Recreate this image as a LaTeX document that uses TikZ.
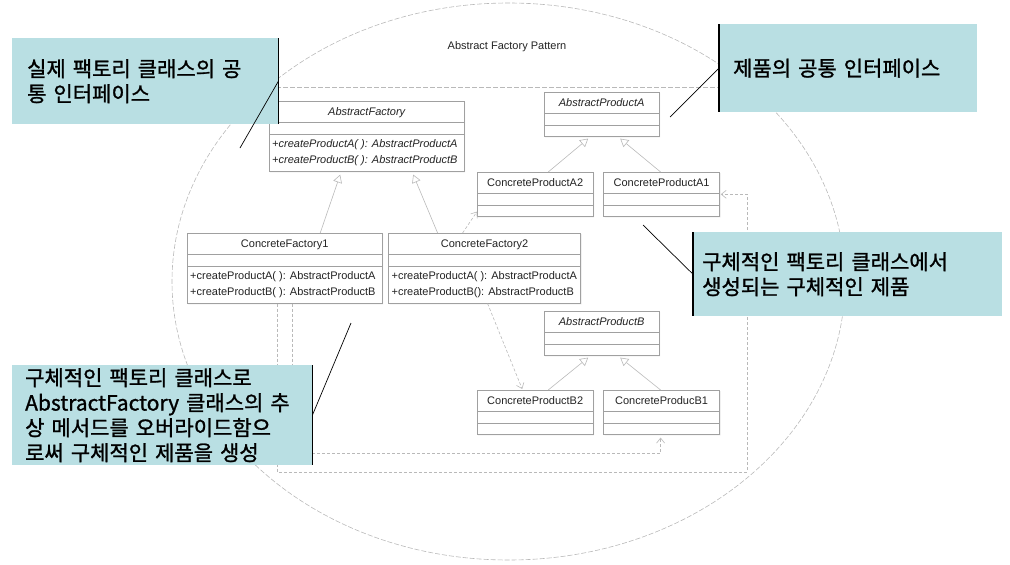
\documentclass[tikz,border=0pt]{standalone}
\usepackage{fontspec}
\setmainfont{Liberation Sans}
\newfontfamily\kor[WordSpace=2.4, FakeBold=1.2]{Noto Sans CJK KR}
\usetikzlibrary{arrows.meta,positioning,calc,shapes.multipart,shadows}
\definecolor{notebg}{RGB}{185,223,227}
\definecolor{umlline}{RGB}{160,160,160}
\definecolor{linkgray}{RGB}{185,185,185}
\definecolor{umltext}{RGB}{35,35,35}

\begin{document}
\begin{tikzpicture}[x=1pt, y=-1pt,
  cls/.style={rectangle split, rectangle split parts=3, draw=umlline, fill=white,
              drop shadow={shadow xshift=1pt, shadow yshift=-1pt, opacity=0.18},
              font=\fontsize{11}{16}\selectfont, text=umltext, align=left,
              rectangle split part align={center,center,left},
              inner xsep=3pt, inner ysep=2.5pt,
              rectangle split empty part height=6pt, rectangle split empty part depth=0pt,
              anchor=north west},
  note/.style={fill=notebg, font=\kor\fontsize{21}{25}\selectfont, align=left,
               inner ysep=0pt, anchor=north west},
  noteedge/.style={black, line width=1.1pt},
  pointer/.style={black, line width=0.7pt},
  frame/.style={draw=linkgray, dash pattern=on 5pt off 2pt, line width=0.6pt},
  gen/.style={draw=linkgray, line width=0.6pt, -{Triangle[open, length=8pt, width=9pt, fill=white]}},
  dep/.style={draw=linkgray, line width=0.6pt, dash pattern=on 3pt off 2pt,
              -{Straight Barb[length=5pt, width=8pt]}}]
  \useasboundingbox (0,0) rectangle (1010,565);

  % collaboration
  \draw[frame] (508.5,281.5) ellipse [x radius=336.5, y radius=278.5];
  \begin{scope}
    \clip (508.5,281.5) ellipse [x radius=336.5, y radius=278.5];
    \draw[frame] (150,87) -- (870,87);
  \end{scope}
  \node[font=\fontsize{11}{13}\selectfont, text=umltext] (title) at (507,47) {Abstract Factory Pattern};

  % classes
  \node[cls, minimum width=195pt] (af) at (269,101)
    {\strut\itshape AbstractFactory \nodepart{second} \nodepart{third}
     \itshape\strut+createProductA( ): AbstractProductA\\ \itshape\strut+createProductB( ): AbstractProductB};
  \node[cls, minimum width=115pt] (apa) at (544,92) {\strut\itshape AbstractProductA \nodepart{second} \nodepart{third}};
  \node[cls, minimum width=116pt] (a2) at (477,172) {\strut ConcreteProductA2 \nodepart{second} \nodepart{third}};
  \node[cls, minimum width=116pt, right=10pt of a2] (a1) {\strut ConcreteProductA1 \nodepart{second} \nodepart{third}};
  \node[cls, minimum width=195pt] (cf1) at (187,233)
    {\strut ConcreteFactory1 \nodepart{second} \nodepart{third}
     \strut+createProductA( ): AbstractProductA\\ \strut+createProductB( ): AbstractProductB};
  \node[cls, minimum width=192pt, right=6pt of cf1] (cf2)
    {\strut ConcreteFactory2 \nodepart{second} \nodepart{third}
     \strut+createProductA( ): AbstractProductA\\ \strut+createProductB(): AbstractProductB};
  \node[cls, minimum width=115pt] (apb) at (544,311) {\strut\itshape AbstractProductB \nodepart{second} \nodepart{third}};
  \node[cls, minimum width=116pt] (b2) at (477,390) {\strut ConcreteProductB2 \nodepart{second} \nodepart{third}};
  \node[cls, minimum width=116pt, right=10pt of b2] (b1) {\strut ConcreteProducB1 \nodepart{second} \nodepart{third}};

  % generalization
  \draw[gen] ($(cf1.north)+(35.5,0)$) -- ($(af.south)+(-26.5,3)$);
  \draw[gen] ($(cf2.north)+(-47,0)$) -- ($(af.south)+(46.5,3)$);
  \draw[gen] ($(a2.north)+(13,0)$) -- ($(apa.south)+(-13.5,2)$);
  \draw[gen] ($(a1.north)+(-1,0)$) -- ($(apa.south)+(18.5,2)$);
  \draw[gen] ($(b2.north)+(13,0)$) -- ($(apb.south)+(-13.5,2)$);
  \draw[gen] ($(b1.north)+(-1,0)$) -- ($(apb.south)+(18.5,2)$);

  % dependencies
  \coordinate (rb) at (747,472);
  \draw[dep] ($(cf2.north)+(-22,0)$) -- ($(a2.south west)+(0,-5)$);
  \draw[dep] ($(cf2.south)+(3,0)$) -- ($(b2.north)+(-13,-1)$);
  \draw[dep] ($(cf1.south)+(7.5,0)$) -- ++(0,150) -| ($(b1.south)+(-1,3)$);
  \draw[dep] ($(cf1.south)+(-7.5,0)$) |- (rb) |- ($(a1.east)+(1,0)$);

  % notes
  \node[note, inner xsep=15pt, text width=236pt, minimum height=86pt] (c1) at (12,38)
    {실제 팩토리 클래스의 공\\통 인터페이스};
  \node[note, inner xsep=14pt, text width=230pt, minimum height=88pt] (c2) at (719,24)
    {제품의 공통 인터페이스};
  \node[note, inner xsep=9pt, text width=291pt, minimum height=84pt] (c3) at (693,232)
    {구체적인 팩토리 클래스에서\\생성되는 구체적인 제품};
  \node[note, inner xsep=13pt, text width=274pt, minimum height=100pt] (c4) at (12,365)
    {구체적인 팩토리 클래스로\\AbstractFactory 클래스의 추\\상 메서드를 오버라이드함으\\로써 구체적인 제품을 생성};
  \draw[noteedge] (c1.north east) -- (c1.south east);
  \draw[noteedge] (c2.north west) -- (c2.south west);
  \draw[noteedge] (c3.north west) -- (c3.south west);
  \draw[noteedge] (c4.north east) -- (c4.south east);

  \coordinate (p1) at (240,148);
  \coordinate (p2) at (670,117);
  \coordinate (p3) at (643,225);
  \coordinate (p4) at (351,323);
  \draw[pointer] (c1.east) -- (p1);
  \draw[pointer] (c2.west) -- (p2);
  \draw[pointer] (c3.west) -- (p3);
  \draw[pointer] (c4.east) -- (p4);
\end{tikzpicture}
\end{document}
